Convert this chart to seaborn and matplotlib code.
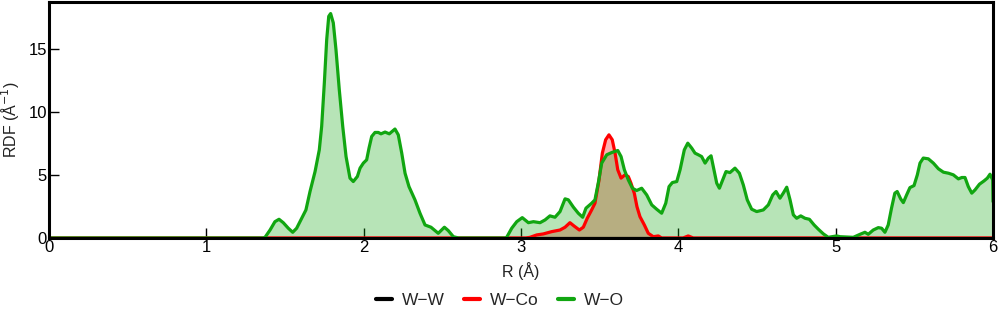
import matplotlib
matplotlib.use("Agg")
import matplotlib.pyplot as plt
import seaborn as sns
import pandas as pd
from matplotlib.lines import Line2D

# Radial distribution functions around W
r_ww = [0.0, 6.0]
rdf_ww = [0.0, 0.0]

r_wco = [0.0, 3.03, 3.057, 3.10, 3.142, 3.195, 3.248, 3.28, 3.311, 3.337, 3.371, 3.396,
         3.421, 3.449, 3.47, 3.496, 3.517, 3.538, 3.559, 3.580, 3.598, 3.615, 3.636, 3.661,
         3.682, 3.699, 3.720, 3.737, 3.756, 3.784, 3.809, 3.841, 3.873, 3.894,
         4.03, 4.063, 4.095, 6.0]
rdf_wco = [0.0, 0.0, 0.05, 0.24, 0.32, 0.5, 0.63, 0.85, 1.21, 0.95, 0.63, 0.85,
           1.56, 2.22, 2.75, 4.6, 6.72, 7.78, 8.17, 7.78, 6.72, 5.40, 4.74, 5.0,
           4.87, 4.34, 3.55, 2.48, 1.69, 1.03, 0.37, 0.1, 0.16, 0.0,
           0.0, 0.16, 0.0, 0.0]

r_wo = [0.0, 1.36, 1.373, 1.405, 1.436, 1.462, 1.489, 1.521, 1.549, 1.574, 1.606, 1.633,
        1.659, 1.691, 1.718, 1.733, 1.750, 1.765, 1.778, 1.790, 1.807, 1.824, 1.845, 1.867,
        1.888, 1.913, 1.934, 1.960, 1.977, 1.998, 2.019, 2.034, 2.051, 2.072, 2.093, 2.110,
        2.136, 2.163, 2.199, 2.220, 2.242, 2.263, 2.288, 2.326, 2.358, 2.39, 2.428, 2.474,
        2.513, 2.538, 2.570, 2.602, 2.90, 2.909, 2.941, 2.973, 3.008, 3.047, 3.079, 3.121,
        3.153, 3.184, 3.216, 3.248, 3.280, 3.301, 3.333, 3.364, 3.392, 3.413, 3.449, 3.47,
        3.491, 3.513, 3.545, 3.577, 3.615, 3.636, 3.657, 3.682, 3.708, 3.735, 3.767, 3.799,
        3.831, 3.862, 3.894, 3.92, 3.941, 3.962, 3.990, 4.011, 4.038, 4.060, 4.085, 4.106,
        4.127, 4.148, 4.170, 4.191, 4.208, 4.222, 4.244, 4.261, 4.282, 4.303, 4.328, 4.360,
        4.388, 4.413, 4.438, 4.466, 4.498, 4.540, 4.572, 4.600, 4.621, 4.646, 4.667, 4.689,
        4.710, 4.731, 4.752, 4.778, 4.805, 4.833, 4.863, 4.890, 4.922, 4.953, 5.006, 5.028,
        5.112, 5.155, 5.186, 5.207, 5.239, 5.271, 5.292, 5.313, 5.334, 5.355, 5.376, 5.391,
        5.413, 5.430, 5.451, 5.472, 5.498, 5.519, 5.536, 5.557, 5.589, 5.621, 5.653, 5.685,
        5.717, 5.748, 5.780, 5.802, 5.822, 5.843, 5.865, 5.886, 5.914, 5.943, 5.964, 5.981,
        5.998, 6.0]
rdf_wo = [0.0, 0.0, 0.05, 0.63, 1.29, 1.48, 1.21, 0.77, 0.45, 0.77, 1.56, 2.22,
          3.68, 5.26, 6.98, 8.83, 12.28, 15.71, 17.56, 17.78, 17.04, 14.92, 11.75, 8.83,
          6.45, 4.74, 4.47, 4.87, 5.53, 5.93, 6.19, 7.12, 8.04, 8.36, 8.36, 8.25,
          8.39, 8.25, 8.63, 8.17, 6.72, 5.13, 4.07, 3.02, 1.96, 1.03, 0.85, 0.37,
          0.85, 0.58, 0.1, 0.0, 0.0, 0.05, 0.77, 1.29, 1.61, 1.21, 1.29, 1.21,
          1.43, 1.75, 1.64, 2.09, 3.10, 3.02, 2.44, 1.96, 1.64, 2.36, 2.75, 3.02,
          4.34, 5.93, 6.59, 6.77, 6.93, 6.45, 5.40, 4.6, 3.94, 3.76, 3.94, 3.41,
          2.62, 2.28, 1.96, 2.75, 4.07, 4.39, 4.47, 5.40, 6.98, 7.51, 7.12, 6.72,
          6.59, 6.45, 5.93, 6.33, 6.51, 5.66, 4.34, 3.94, 4.6, 5.26, 5.18, 5.53,
          5.13, 4.2, 3.02, 2.28, 2.09, 2.22, 2.62, 3.41, 3.68, 3.15, 3.55, 4.02,
          3.02, 1.83, 1.56, 1.75, 1.56, 1.48, 1.03, 0.69, 0.32, 0.05, 0.16, 0.1,
          0.05, 0.29, 0.45, 0.29, 0.63, 0.82, 0.77, 0.45, 1.03, 2.36, 3.55, 3.68,
          3.10, 2.80, 3.41, 3.99, 4.15, 5.0, 5.93, 6.33, 6.27, 5.93, 5.48, 5.21,
          5.13, 5.0, 4.68, 4.79, 4.79, 4.07, 3.55, 3.81, 4.26, 4.52, 4.74, 5.05,
          4.6, 2.88]

labels = ["W−W", "W−Co", "W−O"]
colors = ["#000000", "#ff0000", "#11a611"]

sns.set_style("ticks")
plt.rcParams["font.family"] = ["Liberation Sans", "DejaVu Sans"]

fig = plt.figure(figsize=(10, 3.22), dpi=100)
ax = fig.add_axes([0.049, 0.261, 0.944, 0.733])

series = [(r_ww, rdf_ww), (r_wco, rdf_wco), (r_wo, rdf_wo)]
for (r, g), lab, col in zip(series, labels, colors):
    df = pd.DataFrame({"R": r, "RDF": g})
    ax.fill_between(df["R"], 0, df["RDF"], color=col, alpha=0.3, linewidth=0)
    sns.lineplot(data=df, x="R", y="RDF", ax=ax, color=col, linewidth=2.3,
                 sort=False, estimator=None, legend=False,
                 solid_joinstyle="round", solid_capstyle="round")

ax.set_xlim(0, 6)
ax.set_ylim(0, 18.7)
ax.set_xticks([0, 1, 2, 3, 4, 5, 6])
ax.set_yticks([0, 5, 10, 15])
ax.tick_params(direction="in", length=7, width=1, labelsize=12, colors="#000000", pad=1.5)
for s in ax.spines.values():
    s.set_linewidth(2.2)
    s.set_color("#000000")

ax.set_xlabel("R (Å)", fontsize=11.5, color="#222222", labelpad=5)
ax.set_ylabel("RDF (Å$^{-1}$)", fontsize=11.5, color="#222222", labelpad=5)

handles = [Line2D([0], [0], color=c, linewidth=3) for c in colors]
fig.legend(handles, labels, loc="center", bbox_to_anchor=(0.5, 0.068), ncol=3,
           frameon=False, fontsize=12.5, handlelength=0.9, handletextpad=0.6,
           columnspacing=1.1)

fig.savefig("out.png", dpi=100)
